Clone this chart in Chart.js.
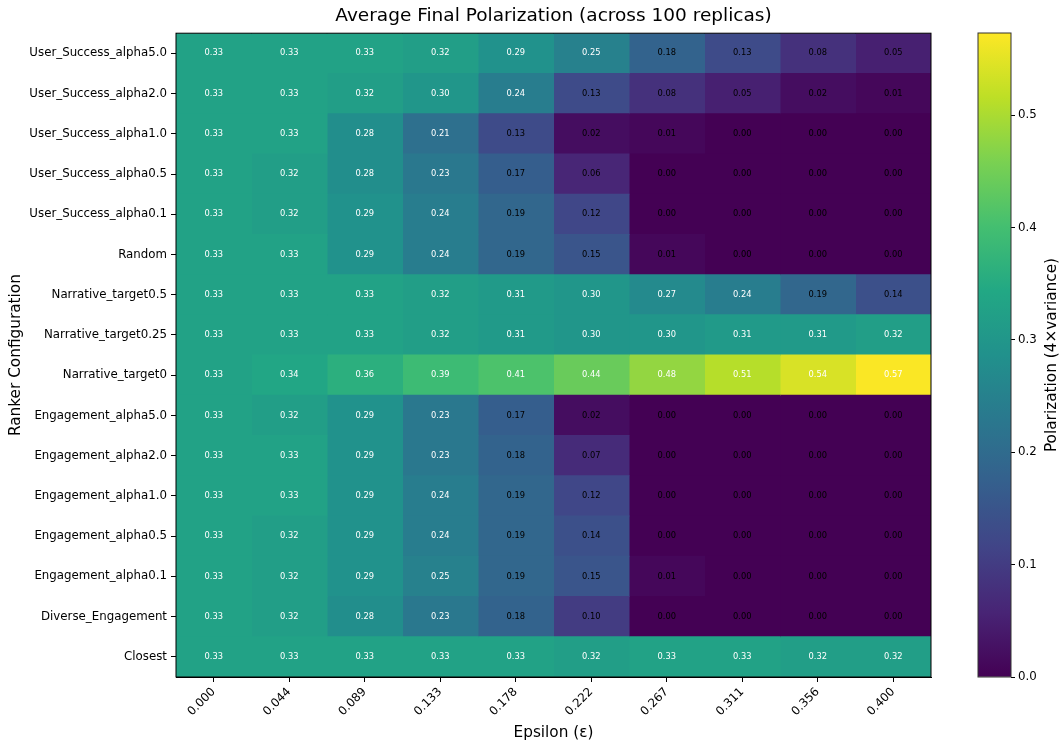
<!DOCTYPE html>
<html>
<head>
<meta charset="utf-8">
<script src="https://cdn.jsdelivr.net/npm/chart.js@4"></script>
<style>
  body { margin: 0; background: #fff; }
  #wrap { position: relative; width: 1060px; height: 742px; }
  #heat { position: absolute; left: 0; top: 0; }
  #cbar { position: absolute; left: 940px; top: 0; }
</style>
</head>
<body>
<div id="wrap">
  <canvas id="heat" width="1060" height="742"></canvas>
  <canvas id="cbar" width="120" height="742"></canvas>
</div>
<script>
const epsilonLabels = ['0.000', '0.044', '0.089', '0.133', '0.178', '0.222', '0.267', '0.311', '0.356', '0.400'];

const rankerConfigs = [
  'User_Success_alpha5.0', 'User_Success_alpha2.0', 'User_Success_alpha1.0',
  'User_Success_alpha0.5', 'User_Success_alpha0.1', 'Random',
  'Narrative_target0.5', 'Narrative_target0.25', 'Narrative_target0',
  'Engagement_alpha5.0', 'Engagement_alpha2.0', 'Engagement_alpha1.0',
  'Engagement_alpha0.5', 'Engagement_alpha0.1', 'Diverse_Engagement', 'Closest',
];

// one row per ranker config, one column per epsilon
const polarization = [
  [0.33, 0.33, 0.33, 0.32, 0.29, 0.25, 0.18, 0.13, 0.08, 0.05],
  [0.33, 0.33, 0.32, 0.30, 0.24, 0.13, 0.08, 0.05, 0.02, 0.01],
  [0.33, 0.33, 0.28, 0.21, 0.13, 0.02, 0.01, 0.00, 0.00, 0.00],
  [0.33, 0.32, 0.28, 0.23, 0.17, 0.06, 0.00, 0.00, 0.00, 0.00],
  [0.33, 0.32, 0.29, 0.24, 0.19, 0.12, 0.00, 0.00, 0.00, 0.00],
  [0.33, 0.33, 0.29, 0.24, 0.19, 0.15, 0.01, 0.00, 0.00, 0.00],
  [0.33, 0.33, 0.33, 0.32, 0.31, 0.30, 0.27, 0.24, 0.19, 0.14],
  [0.33, 0.33, 0.33, 0.32, 0.31, 0.30, 0.30, 0.31, 0.31, 0.32],
  [0.33, 0.34, 0.36, 0.39, 0.41, 0.44, 0.48, 0.51, 0.54, 0.57],
  [0.33, 0.32, 0.29, 0.23, 0.17, 0.02, 0.00, 0.00, 0.00, 0.00],
  [0.33, 0.33, 0.29, 0.23, 0.18, 0.07, 0.00, 0.00, 0.00, 0.00],
  [0.33, 0.33, 0.29, 0.24, 0.19, 0.12, 0.00, 0.00, 0.00, 0.00],
  [0.33, 0.32, 0.29, 0.24, 0.19, 0.14, 0.00, 0.00, 0.00, 0.00],
  [0.33, 0.32, 0.29, 0.25, 0.19, 0.15, 0.01, 0.00, 0.00, 0.00],
  [0.33, 0.32, 0.28, 0.23, 0.18, 0.10, 0.00, 0.00, 0.00, 0.00],
  [0.33, 0.33, 0.33, 0.33, 0.33, 0.32, 0.33, 0.33, 0.32, 0.32],
];

const colorMin = 0;
const colorMax = 0.573;
const colorTicks = [0, 0.1, 0.2, 0.3, 0.4, 0.5];

const VIRIDIS = ['#440154', '#482475', '#414487', '#355f8d', '#2a788e', '#21918c',
  '#22a884', '#44bf70', '#7ad151', '#bddf26', '#fde725'];

function hexRgb(h) {
  return [1, 3, 5].map(i => parseInt(h.slice(i, i + 2), 16));
}

function viridis(v) {
  let t = (v - colorMin) / (colorMax - colorMin);
  t = Math.max(0, Math.min(1, t)) * (VIRIDIS.length - 1);
  const i = Math.min(Math.floor(t), VIRIDIS.length - 2);
  const f = t - i;
  const a = hexRgb(VIRIDIS[i]);
  const b = hexRgb(VIRIDIS[i + 1]);
  const c = a.map((x, k) => Math.round(x + (b[k] - x) * f));
  return `rgb(${c[0]},${c[1]},${c[2]})`;
}

Chart.defaults.font.family = '"DejaVu Sans", sans-serif';
Chart.defaults.color = '#000';

const frame = {
  id: 'frame',
  afterDatasetsDraw(chart) {
    const { ctx, chartArea: a } = chart;
    ctx.save();
    ctx.strokeStyle = '#000';
    ctx.lineWidth = 1;
    ctx.strokeRect(a.left, a.top, a.right - a.left, a.bottom - a.top);
    ctx.restore();
  },
};

const cellText = {
  id: 'cellText',
  afterDatasetsDraw(chart) {
    const { ctx } = chart;
    ctx.save();
    ctx.font = '8.3px "DejaVu Sans", sans-serif';
    ctx.textAlign = 'center';
    ctx.textBaseline = 'middle';
    chart.data.datasets.forEach((ds, c) => {
      chart.getDatasetMeta(c).data.forEach((bar, r) => {
        const v = polarization[r][c];
        const p = bar.getCenterPoint();
        ctx.fillStyle = v > 0.2 ? '#fff' : '#000';
        ctx.fillText(v.toFixed(2), p.x, p.y);
      });
    });
    ctx.restore();
  },
};

// heatmap: one floating-bar dataset per epsilon column
new Chart(document.getElementById('heat'), {
  type: 'bar',
  data: {
    labels: rankerConfigs,
    datasets: epsilonLabels.map((eps, c) => ({
      label: eps,
      data: rankerConfigs.map(() => [c - 0.5, c + 0.5]),
      backgroundColor: rankerConfigs.map((_, r) => viridis(polarization[r][c])),
      borderWidth: 0,
      grouped: false,
      barPercentage: 1,
      categoryPercentage: 1,
      inflateAmount: 0.5,
    })),
  },
  options: {
    indexAxis: 'y',
    responsive: false,
    animation: false,
    layout: { padding: { left: 0, right: 129, top: 0, bottom: 0 } },
    plugins: {
      legend: { display: false },
      tooltip: { enabled: false },
      title: {
        display: true,
        fullSize: false,
        text: 'Average Final Polarization (across 100 replicas)',
        color: '#000',
        font: { size: 18.5, weight: 'normal' },
        padding: { top: 5, bottom: 6 },
      },
    },
    scales: {
      x: {
        type: 'linear',
        min: -0.5,
        max: epsilonLabels.length - 0.5,
        afterBuildTicks: s => { s.ticks = epsilonLabels.map((_, i) => ({ value: i })); },
        afterFit: s => { s.height = 65; },
        ticks: {
          callback: (v, i) => epsilonLabels[i],
          minRotation: 45,
          maxRotation: 45,
          font: { size: 11.8 },
          padding: 3,
        },
        grid: { drawOnChartArea: false, tickLength: 5, tickColor: '#000' },
        border: { display: true, color: '#000' },
        title: {
          display: true,
          text: 'Epsilon (ε)',
          font: { size: 15.3 },
          padding: { top: 0, bottom: 0 },
        },
      },
      y: {
        type: 'category',
        offset: true,
        afterFit: s => { s.width = 176; },
        ticks: { font: { size: 11.8 }, padding: 4 },
        grid: { offset: false, drawOnChartArea: false, tickLength: 5, tickColor: '#000' },
        border: { display: true, color: '#000' },
        title: {
          display: true,
          text: 'Ranker Configuration',
          font: { size: 15.3 },
          padding: { top: 7, bottom: 0 },
        },
      },
    },
  },
  plugins: [frame, cellText],
});

const cbarLabel = {
  id: 'cbarLabel',
  afterDraw(chart) {
    const { ctx, chartArea: a } = chart;
    ctx.save();
    ctx.translate(112, (a.top + a.bottom) / 2);
    ctx.rotate(-Math.PI / 2);
    ctx.font = '15.3px "DejaVu Sans", sans-serif';
    ctx.fillStyle = '#000';
    ctx.textAlign = 'center';
    ctx.textBaseline = 'middle';
    ctx.fillText('Polarization (4×variance)', 0, 0);
    ctx.restore();
  },
};

const cbarFrame = {
  id: 'cbarFrame',
  afterDatasetsDraw(chart) {
    const { ctx, chartArea: a } = chart;
    ctx.save();
    ctx.strokeStyle = '#333';
    ctx.lineWidth = 1;
    ctx.strokeRect(a.left, a.top, a.right - a.left, a.bottom - a.top);
    ctx.restore();
  },
};

// colour bar
new Chart(document.getElementById('cbar'), {
  type: 'bar',
  data: {
    labels: [''],
    datasets: [{
      data: [[colorMin, colorMax]],
      borderWidth: 0,
      barPercentage: 1,
      categoryPercentage: 1,
      backgroundColor: (ctx) => {
        const a = ctx.chart.chartArea;
        if (!a) return VIRIDIS[0];
        const g = ctx.chart.ctx.createLinearGradient(0, a.bottom, 0, a.top);
        VIRIDIS.forEach((c, i) => g.addColorStop(i / (VIRIDIS.length - 1), c));
        return g;
      },
    }],
  },
  options: {
    responsive: false,
    animation: false,
    layout: { padding: { left: 38, right: 0, top: 33, bottom: 65 } },
    plugins: { legend: { display: false }, tooltip: { enabled: false } },
    scales: {
      x: { display: false },
      y: {
        position: 'right',
        min: colorMin,
        max: colorMax,
        afterBuildTicks: s => { s.ticks = colorTicks.map(v => ({ value: v })); },
        afterFit: s => { s.width = 49; },
        ticks: { callback: v => v.toFixed(1), font: { size: 11.8 }, padding: 3 },
        grid: { drawOnChartArea: false, tickLength: 4, tickColor: '#000' },
        border: { display: false },
      },
    },
  },
  plugins: [cbarFrame, cbarLabel],
});
</script>
</body>
</html>
